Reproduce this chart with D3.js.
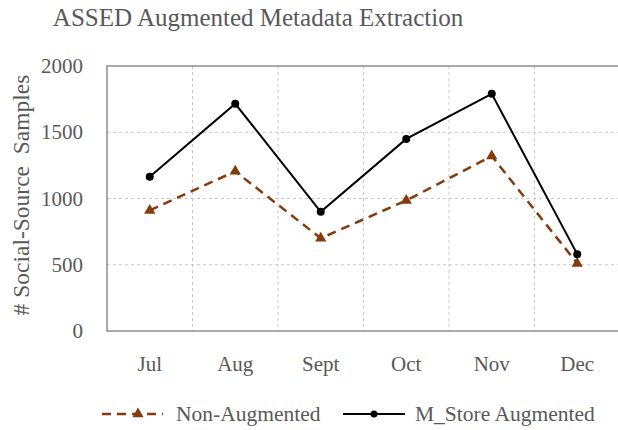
<!DOCTYPE html>
<html>
<head>
<meta charset="utf-8">
<script src="https://cdn.jsdelivr.net/npm/d3@7"></script>
<style>
  body { margin: 0; background: #fff; }
  text { font-family: "Liberation Serif", "DejaVu Serif", serif; fill: #595959; }
</style>
</head>
<body>
<div id="chart"></div>
<script>
const months = ["Jul", "Aug", "Sept", "Oct", "Nov", "Dec"];
const nonAugmented = [910, 1205, 700, 985, 1320, 510];
const mStoreAugmented = [1165, 1715, 900, 1450, 1790, 580];
const yTicks = [0, 500, 1000, 1500, 2000];

const W = 618, H = 430;
const margin = {top: 66, right: -2, bottom: 99, left: 107};
const width = W - margin.left - margin.right,
      height = H - margin.top - margin.bottom;

const svg = d3.select("#chart").append("svg")
    .attr("width", W)
    .attr("height", H);

const g = svg.append("g")
    .attr("transform", "translate(" + margin.left + "," + margin.top + ")");

const x = d3.scaleBand().domain(months).range([0, width]);
const y = d3.scaleLinear().domain([0, 2000]).range([height, 0]);

// gridlines
g.selectAll(".hgrid").data(yTicks.slice(1, -1)).enter().append("line")
    .attr("x1", 0).attr("x2", width)
    .attr("y1", d => y(d)).attr("y2", d => y(d))
    .attr("stroke", "#c8c8c8").attr("stroke-dasharray", "3,3");

g.selectAll(".vgrid").data(months.slice(1)).enter().append("line")
    .attr("x1", d => x(d)).attr("x2", d => x(d))
    .attr("y1", 0).attr("y2", height)
    .attr("stroke", "#c8c8c8").attr("stroke-dasharray", "3,3");

g.append("rect")
    .attr("width", width).attr("height", height)
    .attr("fill", "none").attr("stroke", "#707070").attr("stroke-width", 1.2);

// axes
const yAxis = g.append("g")
    .call(d3.axisLeft(y).tickValues(yTicks).tickFormat(d3.format("d")).tickSize(0).tickPadding(24));
yAxis.select(".domain").remove();
yAxis.selectAll("text").style("font-size", "21px");

const xAxis = g.append("g")
    .attr("transform", "translate(0," + height + ")")
    .call(d3.axisBottom(x).tickSize(0).tickPadding(25));
xAxis.select(".domain").remove();
xAxis.selectAll("text").style("font-size", "21px");

g.append("text")
    .attr("transform", "rotate(-90)")
    .attr("x", -(195 - margin.top))
    .attr("y", -78)
    .attr("text-anchor", "middle")
    .style("font-size", "23.5px")
    .text("# Social-Source\u00a0\u00a0Samples");

svg.append("text")
    .attr("x", 258).attr("y", 26)
    .attr("text-anchor", "middle")
    .style("font-size", "25px")
    .text("ASSED Augmented Metadata Extraction");

const cx = d => x(d) + x.bandwidth() / 2;
const line = d3.line().x(d => cx(d.m)).y(d => y(d.v));

const brown = "#843c0c";
const naData = months.map((m, i) => ({m: m, v: nonAugmented[i]}));
const msData = months.map((m, i) => ({m: m, v: mStoreAugmented[i]}));

g.append("path").datum(naData)
    .attr("fill", "none").attr("stroke", brown)
    .attr("stroke-width", 2.5).attr("stroke-dasharray", "9,6")
    .attr("d", line);

const tri = d3.symbol().type(d3.symbolTriangle).size(55);
g.selectAll(".tri").data(naData).enter().append("path")
    .attr("transform", d => "translate(" + cx(d.m) + "," + y(d.v) + ")")
    .attr("d", tri).attr("fill", brown);

g.append("path").datum(msData)
    .attr("fill", "none").attr("stroke", "#000")
    .attr("stroke-width", 2)
    .attr("d", line);

g.selectAll(".dot").data(msData).enter().append("circle")
    .attr("cx", d => cx(d.m)).attr("cy", d => y(d.v))
    .attr("r", 4).attr("fill", "#000");

// legend
const leg = svg.append("g").attr("transform", "translate(0,414)");
leg.append("line").attr("x1", 102).attr("x2", 163)
    .attr("stroke", brown).attr("stroke-width", 2.5).attr("stroke-dasharray", "9,6");
leg.append("path").attr("transform", "translate(138,0)")
    .attr("d", tri).attr("fill", brown);
leg.append("text").attr("x", 176).attr("y", 7).style("font-size", "21.5px").text("Non-Augmented");

leg.append("line").attr("x1", 343).attr("x2", 405)
    .attr("stroke", "#000").attr("stroke-width", 2);
leg.append("circle").attr("cx", 374).attr("cy", 0).attr("r", 3.5).attr("fill", "#000");
leg.append("text").attr("x", 415).attr("y", 7).style("font-size", "21.5px").text("M_Store Augmented");
</script>
</body>
</html>
